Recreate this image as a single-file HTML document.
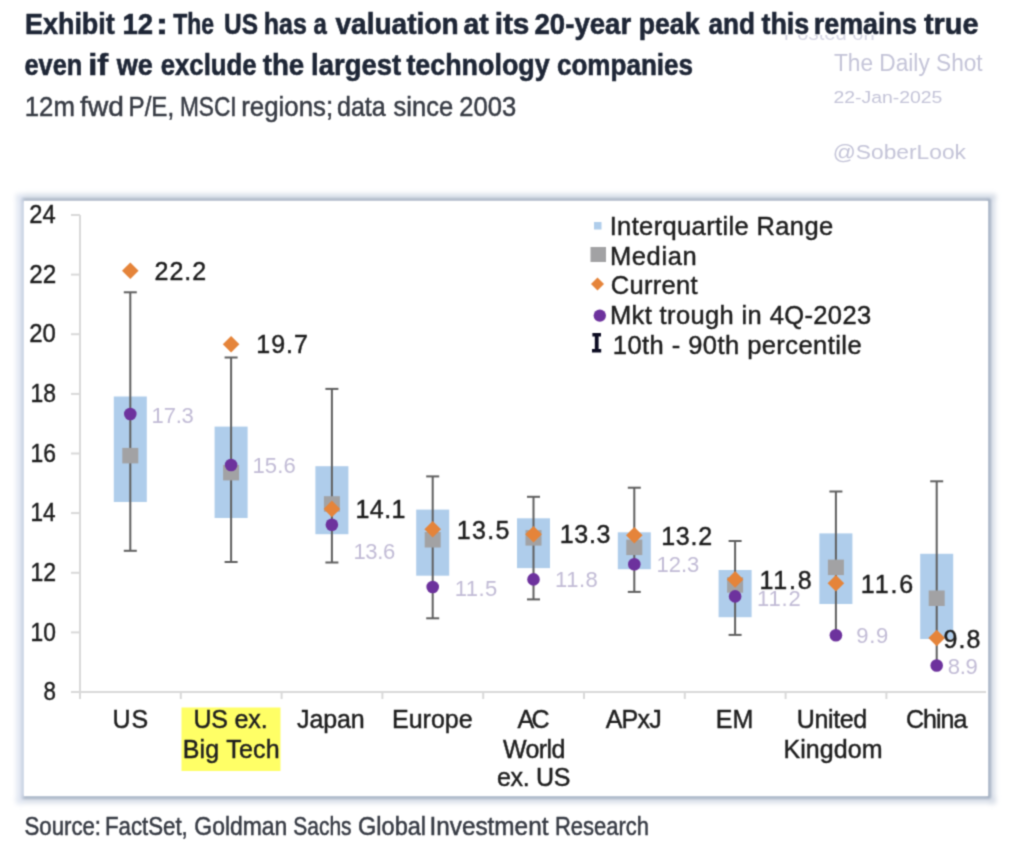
<!DOCTYPE html>
<html><head><meta charset="utf-8"><style>
html,body{margin:0;padding:0;background:#fff;}
body{width:1024px;height:848px;overflow:hidden;position:relative;}
svg{position:absolute;left:0;top:0;}
text{font-family:"Liberation Sans",sans-serif;}
.d{stroke:#1e1e1e;stroke-width:0.45px;}
</style></head><body>
<svg width="1024" height="848" viewBox="0 0 1024 848">
<defs>
<filter id="sh" x="-5%" y="-5%" width="110%" height="110%"><feGaussianBlur stdDeviation="3"/></filter>
<filter id="fb" x="-5%" y="-5%" width="110%" height="110%"><feGaussianBlur stdDeviation="2.5"/></filter>
<filter id="gb" x="0" y="0" width="1024" height="848" filterUnits="userSpaceOnUse" color-interpolation-filters="sRGB"><feConvolveMatrix order="3" kernelMatrix="0.0361 0.1178 0.0361 0.1178 0.3846 0.1178 0.0361 0.1178 0.0361" divisor="1" edgeMode="duplicate" preserveAlpha="true"/></filter>
<filter id="fb2" x="-5%" y="-5%" width="110%" height="110%"><feGaussianBlur stdDeviation="0.8"/></filter>
</defs>
<g filter="url(#gb)">
<rect x="0" y="0" width="1024" height="848" fill="#fff"/>
<text x="783.84" y="39.50" font-size="20" fill="#d6d6e4" textLength="90.97" lengthAdjust="spacingAndGlyphs">Posted on</text>
<rect x="0" y="0" width="1024" height="35" fill="#fff"/>
<text x="833.99" y="71.30" font-size="23" fill="#c4c4d8" textLength="148.68" lengthAdjust="spacingAndGlyphs">The Daily Shot</text>
<text x="833.53" y="103.30" font-size="16.8" fill="#c4c4d8" textLength="108.79" lengthAdjust="spacingAndGlyphs">22-Jan-2025</text>
<text x="832.71" y="158.60" font-size="21" fill="#c4c4d8" textLength="133.26" lengthAdjust="spacingAndGlyphs">@SoberLook</text>
<text x="24.95" y="34.00" font-size="30" font-weight="bold" fill="#1e2636" textLength="89.88" lengthAdjust="spacingAndGlyphs" stroke="#1e2636" stroke-width="0.6">Exhibit</text>
<text x="122.52" y="34.00" font-size="30" font-weight="bold" fill="#1e2636" textLength="30.58" lengthAdjust="spacingAndGlyphs" stroke="#1e2636" stroke-width="0.6">12</text>
<text x="155.66" y="34.00" font-size="30" font-weight="bold" fill="#1e2636" textLength="12.43" lengthAdjust="spacingAndGlyphs" stroke="#1e2636" stroke-width="0.6">:</text>
<text x="173.24" y="34.00" font-size="30" font-weight="bold" fill="#1e2636" textLength="40.79" lengthAdjust="spacingAndGlyphs" stroke="#1e2636" stroke-width="0.6">The</text>
<text x="224.03" y="34.00" font-size="30" font-weight="bold" fill="#1e2636" textLength="33.92" lengthAdjust="spacingAndGlyphs" stroke="#1e2636" stroke-width="0.6">US</text>
<text x="263.76" y="34.00" font-size="30" font-weight="bold" fill="#1e2636" textLength="43.02" lengthAdjust="spacingAndGlyphs" stroke="#1e2636" stroke-width="0.6">has</text>
<text x="313.55" y="34.00" font-size="30" font-weight="bold" fill="#1e2636" textLength="13.30" lengthAdjust="spacingAndGlyphs" stroke="#1e2636" stroke-width="0.6">a</text>
<text x="335.39" y="34.00" font-size="30" font-weight="bold" fill="#1e2636" textLength="123.35" lengthAdjust="spacingAndGlyphs" stroke="#1e2636" stroke-width="0.6">valuation</text>
<text x="463.42" y="34.00" font-size="30" font-weight="bold" fill="#1e2636" textLength="25.18" lengthAdjust="spacingAndGlyphs" stroke="#1e2636" stroke-width="0.6">at</text>
<text x="494.67" y="34.00" font-size="30" font-weight="bold" fill="#1e2636" textLength="34.81" lengthAdjust="spacingAndGlyphs" stroke="#1e2636" stroke-width="0.6">its</text>
<text x="534.54" y="34.00" font-size="30" font-weight="bold" fill="#1e2636" textLength="96.62" lengthAdjust="spacingAndGlyphs" stroke="#1e2636" stroke-width="0.6">20-year</text>
<text x="638.74" y="34.00" font-size="30" font-weight="bold" fill="#1e2636" textLength="60.73" lengthAdjust="spacingAndGlyphs" stroke="#1e2636" stroke-width="0.6">peak</text>
<text x="708.48" y="34.00" font-size="30" font-weight="bold" fill="#1e2636" textLength="46.49" lengthAdjust="spacingAndGlyphs" stroke="#1e2636" stroke-width="0.6">and</text>
<text x="761.42" y="34.00" font-size="30" font-weight="bold" fill="#1e2636" textLength="47.94" lengthAdjust="spacingAndGlyphs" stroke="#1e2636" stroke-width="0.6">this</text>
<text x="813.73" y="34.00" font-size="30" font-weight="bold" fill="#1e2636" textLength="103.13" lengthAdjust="spacingAndGlyphs" stroke="#1e2636" stroke-width="0.6">remains</text>
<text x="923.90" y="34.00" font-size="30" font-weight="bold" fill="#1e2636" textLength="54.59" lengthAdjust="spacingAndGlyphs" stroke="#1e2636" stroke-width="0.6">true</text>
<text x="24.51" y="74.70" font-size="30" font-weight="bold" fill="#1e2636" textLength="57.81" lengthAdjust="spacingAndGlyphs" stroke="#1e2636" stroke-width="0.6">even</text>
<text x="88.22" y="74.70" font-size="30" font-weight="bold" fill="#1e2636" textLength="19.97" lengthAdjust="spacingAndGlyphs" stroke="#1e2636" stroke-width="0.6">if</text>
<text x="116.83" y="74.70" font-size="30" font-weight="bold" fill="#1e2636" textLength="36.10" lengthAdjust="spacingAndGlyphs" stroke="#1e2636" stroke-width="0.6">we</text>
<text x="160.74" y="74.70" font-size="30" font-weight="bold" fill="#1e2636" textLength="95.89" lengthAdjust="spacingAndGlyphs" stroke="#1e2636" stroke-width="0.6">exclude</text>
<text x="262.66" y="74.70" font-size="30" font-weight="bold" fill="#1e2636" textLength="41.53" lengthAdjust="spacingAndGlyphs" stroke="#1e2636" stroke-width="0.6">the</text>
<text x="311.08" y="74.70" font-size="30" font-weight="bold" fill="#1e2636" textLength="90.00" lengthAdjust="spacingAndGlyphs" stroke="#1e2636" stroke-width="0.6">largest</text>
<text x="406.42" y="74.70" font-size="30" font-weight="bold" fill="#1e2636" textLength="143.22" lengthAdjust="spacingAndGlyphs" stroke="#1e2636" stroke-width="0.6">technology</text>
<text x="556.98" y="74.70" font-size="30" font-weight="bold" fill="#1e2636" textLength="136.09" lengthAdjust="spacingAndGlyphs" stroke="#1e2636" stroke-width="0.6">companies</text>
<text x="24.79" y="116.30" font-size="27.5" fill="#373b44" textLength="50.16" lengthAdjust="spacingAndGlyphs" stroke="#373b44" stroke-width="0.5">12m</text>
<text x="80.10" y="116.30" font-size="27.5" fill="#373b44" textLength="43.71" lengthAdjust="spacingAndGlyphs" stroke="#373b44" stroke-width="0.5">fwd</text>
<text x="128.52" y="116.30" font-size="27.5" fill="#373b44" textLength="45.65" lengthAdjust="spacingAndGlyphs" stroke="#373b44" stroke-width="0.5">P/E,</text>
<text x="179.89" y="116.30" font-size="27.5" fill="#373b44" textLength="56.70" lengthAdjust="spacingAndGlyphs" stroke="#373b44" stroke-width="0.5">MSCI</text>
<text x="241.29" y="116.30" font-size="27.5" fill="#373b44" textLength="91.78" lengthAdjust="spacingAndGlyphs" stroke="#373b44" stroke-width="0.5">regions;</text>
<text x="336.95" y="116.30" font-size="27.5" fill="#373b44" textLength="48.80" lengthAdjust="spacingAndGlyphs" stroke="#373b44" stroke-width="0.5">data</text>
<text x="393.54" y="116.30" font-size="27.5" fill="#373b44" textLength="59.59" lengthAdjust="spacingAndGlyphs" stroke="#373b44" stroke-width="0.5">since</text>
<text x="459.21" y="116.30" font-size="27.5" fill="#373b44" textLength="56.91" lengthAdjust="spacingAndGlyphs" stroke="#373b44" stroke-width="0.5">2003</text>
<text x="24.49" y="834.70" font-size="25" fill="#373b44" textLength="76.54" lengthAdjust="spacingAndGlyphs" stroke="#373b44" stroke-width="0.5">Source:</text>
<text x="104.93" y="834.70" font-size="25" fill="#373b44" textLength="82.82" lengthAdjust="spacingAndGlyphs" stroke="#373b44" stroke-width="0.5">FactSet,</text>
<text x="194.35" y="834.70" font-size="25" fill="#373b44" textLength="92.89" lengthAdjust="spacingAndGlyphs" stroke="#373b44" stroke-width="0.5">Goldman</text>
<text x="293.30" y="834.70" font-size="25" fill="#373b44" textLength="58.21" lengthAdjust="spacingAndGlyphs" stroke="#373b44" stroke-width="0.5">Sachs</text>
<text x="358.07" y="834.70" font-size="25" fill="#373b44" textLength="68.01" lengthAdjust="spacingAndGlyphs" stroke="#373b44" stroke-width="0.5">Global</text>
<text x="429.51" y="834.70" font-size="25" fill="#373b44" textLength="118.92" lengthAdjust="spacingAndGlyphs" stroke="#373b44" stroke-width="0.5">Investment</text>
<text x="554.95" y="834.70" font-size="25" fill="#373b44" textLength="93.98" lengthAdjust="spacingAndGlyphs" stroke="#373b44" stroke-width="0.5">Research</text>
<g filter="url(#fb)">
<line x1="16" y1="197" x2="996" y2="197" stroke="#d3dbe6" stroke-width="6"/>
<line x1="16" y1="800" x2="996" y2="800" stroke="#d5dce6" stroke-width="6"/>
<line x1="20" y1="194" x2="20" y2="804" stroke="#e0e6f2" stroke-width="7"/>
<line x1="992" y1="194" x2="992" y2="804" stroke="#d5dce6" stroke-width="6"/>
</g>
<g filter="url(#fb2)">
<line x1="22" y1="199.6" x2="990" y2="199.6" stroke="#aab6c6" stroke-width="3"/>
<line x1="22" y1="797.5" x2="990" y2="797.5" stroke="#a4b1c3" stroke-width="3.2"/>
<line x1="22.6" y1="199" x2="22.6" y2="798" stroke="#c8d1e2" stroke-width="3"/>
<line x1="989.5" y1="199" x2="989.5" y2="798" stroke="#a4b1c3" stroke-width="3.2"/>
</g>
<rect x="24" y="201" width="964" height="595" fill="#fff"/>
<line x1="80" y1="215" x2="80" y2="699" stroke="#d9d9d9" stroke-width="2"/>
<line x1="79" y1="692" x2="986" y2="692" stroke="#d9d9d9" stroke-width="2"/>
<line x1="71" y1="215.0" x2="80" y2="215.0" stroke="#d9d9d9" stroke-width="2"/>
<text x="29.31" y="223.20" font-size="25.5" fill="#1e1e1e" textLength="26.39" lengthAdjust="spacingAndGlyphs" class="d">24</text>
<line x1="71" y1="274.6" x2="80" y2="274.6" stroke="#d9d9d9" stroke-width="2"/>
<text x="29.28" y="282.82" font-size="25.5" fill="#1e1e1e" textLength="26.94" lengthAdjust="spacingAndGlyphs" class="d">22</text>
<line x1="71" y1="334.2" x2="80" y2="334.2" stroke="#d9d9d9" stroke-width="2"/>
<text x="29.30" y="342.45" font-size="25.5" fill="#1e1e1e" textLength="26.64" lengthAdjust="spacingAndGlyphs" class="d">20</text>
<line x1="71" y1="393.9" x2="80" y2="393.9" stroke="#d9d9d9" stroke-width="2"/>
<text x="30.56" y="402.07" font-size="25.5" fill="#1e1e1e" textLength="25.44" lengthAdjust="spacingAndGlyphs" class="d">18</text>
<line x1="71" y1="453.5" x2="80" y2="453.5" stroke="#d9d9d9" stroke-width="2"/>
<text x="30.56" y="461.70" font-size="25.5" fill="#1e1e1e" textLength="25.45" lengthAdjust="spacingAndGlyphs" class="d">16</text>
<line x1="71" y1="513.1" x2="80" y2="513.1" stroke="#d9d9d9" stroke-width="2"/>
<text x="30.58" y="521.33" font-size="25.5" fill="#1e1e1e" textLength="25.08" lengthAdjust="spacingAndGlyphs" class="d">14</text>
<line x1="71" y1="572.8" x2="80" y2="572.8" stroke="#d9d9d9" stroke-width="2"/>
<text x="30.55" y="580.95" font-size="25.5" fill="#1e1e1e" textLength="25.61" lengthAdjust="spacingAndGlyphs" class="d">12</text>
<line x1="71" y1="632.4" x2="80" y2="632.4" stroke="#d9d9d9" stroke-width="2"/>
<text x="30.57" y="640.58" font-size="25.5" fill="#1e1e1e" textLength="25.32" lengthAdjust="spacingAndGlyphs" class="d">10</text>
<line x1="71" y1="692.0" x2="80" y2="692.0" stroke="#d9d9d9" stroke-width="2"/>
<text x="43.53" y="700.20" font-size="25.5" fill="#1e1e1e" textLength="12.44" lengthAdjust="spacingAndGlyphs" class="d">8</text>
<line x1="180.8" y1="692" x2="180.8" y2="699" stroke="#d9d9d9" stroke-width="2"/>
<line x1="281.6" y1="692" x2="281.6" y2="699" stroke="#d9d9d9" stroke-width="2"/>
<line x1="382.4" y1="692" x2="382.4" y2="699" stroke="#d9d9d9" stroke-width="2"/>
<line x1="483.2" y1="692" x2="483.2" y2="699" stroke="#d9d9d9" stroke-width="2"/>
<line x1="584.0" y1="692" x2="584.0" y2="699" stroke="#d9d9d9" stroke-width="2"/>
<line x1="684.8" y1="692" x2="684.8" y2="699" stroke="#d9d9d9" stroke-width="2"/>
<line x1="785.6" y1="692" x2="785.6" y2="699" stroke="#d9d9d9" stroke-width="2"/>
<line x1="886.4" y1="692" x2="886.4" y2="699" stroke="#d9d9d9" stroke-width="2"/>
<rect x="113.8" y="396.5" width="33" height="105.5" fill="#afcdeb"/>
<rect x="214.6" y="426.6" width="33" height="91.4" fill="#afcdeb"/>
<rect x="315.4" y="466.2" width="33" height="68.0" fill="#afcdeb"/>
<rect x="416.2" y="509.6" width="33" height="66.1" fill="#afcdeb"/>
<rect x="517.0" y="518.3" width="33" height="49.8" fill="#afcdeb"/>
<rect x="617.8" y="532.3" width="33" height="36.9" fill="#afcdeb"/>
<rect x="718.6" y="570.0" width="33" height="47.2" fill="#afcdeb"/>
<rect x="819.4" y="533.4" width="33" height="70.6" fill="#afcdeb"/>
<rect x="920.2" y="553.8" width="33" height="85.2" fill="#afcdeb"/>
<line x1="130.3" y1="292.3" x2="130.3" y2="550.8" stroke="#5f5f5f" stroke-width="2"/>
<line x1="123.8" y1="292.3" x2="136.8" y2="292.3" stroke="#5f5f5f" stroke-width="2"/>
<line x1="123.8" y1="550.8" x2="136.8" y2="550.8" stroke="#5f5f5f" stroke-width="2"/>
<rect x="122.3" y="447.9" width="16" height="15.5" fill="#a2a2a4"/>
<path d="M130.3 262.5 L138.6 270.8 L130.3 279.1 L122.0 270.8Z" fill="#e5843a"/>
<circle cx="130.3" cy="414.0" r="6.3" fill="#6d329d"/>
<line x1="231.1" y1="357.5" x2="231.1" y2="562.0" stroke="#5f5f5f" stroke-width="2"/>
<line x1="224.6" y1="357.5" x2="237.6" y2="357.5" stroke="#5f5f5f" stroke-width="2"/>
<line x1="224.6" y1="562.0" x2="237.6" y2="562.0" stroke="#5f5f5f" stroke-width="2"/>
<rect x="223.1" y="464.9" width="16" height="15.5" fill="#a2a2a4"/>
<path d="M231.1 336.0 L239.4 344.3 L231.1 352.6 L222.8 344.3Z" fill="#e5843a"/>
<circle cx="231.1" cy="465.0" r="6.3" fill="#6d329d"/>
<line x1="331.9" y1="388.9" x2="331.9" y2="562.5" stroke="#5f5f5f" stroke-width="2"/>
<line x1="325.4" y1="388.9" x2="338.4" y2="388.9" stroke="#5f5f5f" stroke-width="2"/>
<line x1="325.4" y1="562.5" x2="338.4" y2="562.5" stroke="#5f5f5f" stroke-width="2"/>
<rect x="323.9" y="496.2" width="16" height="15.5" fill="#a2a2a4"/>
<path d="M331.9 500.6 L340.2 508.9 L331.9 517.2 L323.6 508.9Z" fill="#e5843a"/>
<circle cx="331.9" cy="524.7" r="6.3" fill="#6d329d"/>
<line x1="432.7" y1="476.4" x2="432.7" y2="618.3" stroke="#5f5f5f" stroke-width="2"/>
<line x1="426.2" y1="476.4" x2="439.2" y2="476.4" stroke="#5f5f5f" stroke-width="2"/>
<line x1="426.2" y1="618.3" x2="439.2" y2="618.3" stroke="#5f5f5f" stroke-width="2"/>
<rect x="424.7" y="532.0" width="16" height="15.5" fill="#a2a2a4"/>
<path d="M432.7 520.9 L441.0 529.2 L432.7 537.5 L424.4 529.2Z" fill="#e5843a"/>
<circle cx="432.7" cy="587.0" r="6.3" fill="#6d329d"/>
<line x1="533.5" y1="496.8" x2="533.5" y2="599.4" stroke="#5f5f5f" stroke-width="2"/>
<line x1="527.0" y1="496.8" x2="540.0" y2="496.8" stroke="#5f5f5f" stroke-width="2"/>
<line x1="527.0" y1="599.4" x2="540.0" y2="599.4" stroke="#5f5f5f" stroke-width="2"/>
<rect x="525.5" y="530.1" width="16" height="15.5" fill="#a2a2a4"/>
<path d="M533.5 525.9 L541.8 534.2 L533.5 542.5 L525.2 534.2Z" fill="#e5843a"/>
<circle cx="533.5" cy="579.4" r="6.3" fill="#6d329d"/>
<line x1="634.3" y1="487.7" x2="634.3" y2="591.9" stroke="#5f5f5f" stroke-width="2"/>
<line x1="627.8" y1="487.7" x2="640.8" y2="487.7" stroke="#5f5f5f" stroke-width="2"/>
<line x1="627.8" y1="591.9" x2="640.8" y2="591.9" stroke="#5f5f5f" stroke-width="2"/>
<rect x="626.3" y="539.6" width="16" height="15.5" fill="#a2a2a4"/>
<path d="M634.3 527.0 L642.6 535.3 L634.3 543.6 L626.0 535.3Z" fill="#e5843a"/>
<circle cx="634.3" cy="564.3" r="6.3" fill="#6d329d"/>
<line x1="735.1" y1="541.0" x2="735.1" y2="634.9" stroke="#5f5f5f" stroke-width="2"/>
<line x1="728.6" y1="541.0" x2="741.6" y2="541.0" stroke="#5f5f5f" stroke-width="2"/>
<line x1="728.6" y1="634.9" x2="741.6" y2="634.9" stroke="#5f5f5f" stroke-width="2"/>
<rect x="727.1" y="577.2" width="16" height="15.5" fill="#a2a2a4"/>
<path d="M735.1 571.1 L743.4 579.4 L735.1 587.7 L726.8 579.4Z" fill="#e5843a"/>
<circle cx="735.1" cy="596.4" r="6.3" fill="#6d329d"/>
<line x1="835.9" y1="491.5" x2="835.9" y2="635.3" stroke="#5f5f5f" stroke-width="2"/>
<line x1="829.4" y1="491.5" x2="842.4" y2="491.5" stroke="#5f5f5f" stroke-width="2"/>
<rect x="827.9" y="559.6" width="16" height="15.5" fill="#a2a2a4"/>
<path d="M835.9 574.9 L844.2 583.2 L835.9 591.5 L827.6 583.2Z" fill="#e5843a"/>
<circle cx="835.9" cy="635.3" r="6.3" fill="#6d329d"/>
<line x1="936.7" y1="481.3" x2="936.7" y2="665.5" stroke="#5f5f5f" stroke-width="2"/>
<line x1="930.2" y1="481.3" x2="943.2" y2="481.3" stroke="#5f5f5f" stroke-width="2"/>
<rect x="928.7" y="590.5" width="16" height="15.5" fill="#a2a2a4"/>
<path d="M936.7 629.7 L945.0 638.0 L936.7 646.3 L928.4 638.0Z" fill="#e5843a"/>
<circle cx="936.7" cy="665.5" r="6.3" fill="#6d329d"/>
<text x="154.54" y="279.70" font-size="25" fill="#1e1e1e" textLength="51.61" lengthAdjust="spacing" class="d">22.2</text>
<text x="256.30" y="353.20" font-size="25" fill="#1e1e1e" textLength="51.56" lengthAdjust="spacing" class="d">19.7</text>
<text x="355.40" y="517.70" font-size="25" fill="#1e1e1e" textLength="50.12" lengthAdjust="spacing" class="d">14.1</text>
<text x="456.80" y="539.10" font-size="25" fill="#1e1e1e" textLength="52.55" lengthAdjust="spacing" class="d">13.5</text>
<text x="559.80" y="542.50" font-size="25" fill="#1e1e1e" textLength="50.60" lengthAdjust="spacing" class="d">13.3</text>
<text x="661.20" y="545.10" font-size="25" fill="#1e1e1e" textLength="50.96" lengthAdjust="spacing" class="d">13.2</text>
<text x="759.40" y="589.00" font-size="25" fill="#1e1e1e" textLength="52.24" lengthAdjust="spacing" class="d">11.8</text>
<text x="860.70" y="593.10" font-size="25" fill="#1e1e1e" textLength="52.50" lengthAdjust="spacing" class="d">11.6</text>
<text x="943.53" y="648.40" font-size="25" fill="#1e1e1e" textLength="36.86" lengthAdjust="spacing" class="d">9.8</text>
<text x="151.62" y="422.70" font-size="22" fill="#c2bcd6" textLength="42.24" lengthAdjust="spacing">17.3</text>
<text x="252.42" y="473.30" font-size="22" fill="#c2bcd6" textLength="43.44" lengthAdjust="spacing">15.6</text>
<text x="353.42" y="559.25" font-size="22" fill="#c2bcd6" textLength="41.84" lengthAdjust="spacing">13.6</text>
<text x="454.72" y="595.90" font-size="22" fill="#c2bcd6" textLength="42.50" lengthAdjust="spacing">11.5</text>
<text x="555.02" y="586.60" font-size="22" fill="#c2bcd6" textLength="42.83" lengthAdjust="spacing">11.8</text>
<text x="656.42" y="572.00" font-size="22" fill="#c2bcd6" textLength="42.84" lengthAdjust="spacing">12.3</text>
<text x="757.02" y="605.50" font-size="22" fill="#c2bcd6" textLength="43.68" lengthAdjust="spacing">11.2</text>
<text x="856.27" y="643.00" font-size="22" fill="#c2bcd6" textLength="31.87" lengthAdjust="spacing">9.9</text>
<text x="947.74" y="673.60" font-size="22" fill="#c2bcd6" textLength="30.10" lengthAdjust="spacing">8.9</text>
<rect x="181.5" y="707.5" width="99" height="63.5" fill="#ffff66"/>
<text x="112.57" y="727.80" font-size="25" fill="#1e1e1e" textLength="35.58" lengthAdjust="spacing" class="d">US</text>
<text x="193.47" y="727.80" font-size="25" fill="#1e1e1e" textLength="74.11" lengthAdjust="spacing" class="d">US ex.</text>
<text x="182.65" y="757.80" font-size="25" fill="#1e1e1e" textLength="96.97" lengthAdjust="spacing" class="d">Big Tech</text>
<text x="297.11" y="727.80" font-size="25" fill="#1e1e1e" textLength="67.51" lengthAdjust="spacing" class="d">Japan</text>
<text x="391.95" y="727.80" font-size="25" fill="#1e1e1e" textLength="80.66" lengthAdjust="spacing" class="d">Europe</text>
<text x="517.55" y="727.80" font-size="25" fill="#1e1e1e" textLength="32.10" lengthAdjust="spacing" class="d">AC</text>
<text x="502.89" y="758.00" font-size="25" fill="#1e1e1e" textLength="62.52" lengthAdjust="spacing" class="d">World</text>
<text x="496.94" y="786.00" font-size="25" fill="#1e1e1e" textLength="73.61" lengthAdjust="spacing" class="d">ex. US</text>
<text x="605.65" y="727.80" font-size="25" fill="#1e1e1e" textLength="56.00" lengthAdjust="spacing" class="d">APxJ</text>
<text x="715.65" y="727.80" font-size="25" fill="#1e1e1e" textLength="37.70" lengthAdjust="spacing" class="d">EM</text>
<text x="796.67" y="727.80" font-size="25" fill="#1e1e1e" textLength="70.54" lengthAdjust="spacing" class="d">United</text>
<text x="783.45" y="758.00" font-size="25" fill="#1e1e1e" textLength="99.20" lengthAdjust="spacing" class="d">Kingdom</text>
<text x="905.93" y="727.80" font-size="25" fill="#1e1e1e" textLength="61.37" lengthAdjust="spacing" class="d">China</text>
<rect x="594" y="222" width="7.5" height="7.5" fill="#afcdeb"/>
<rect x="590.5" y="247" width="15.5" height="15" fill="#a2a2a4"/>
<path d="M597.5 277.5 L604 284 L597.5 290.5 L591 284Z" fill="#e5843a"/>
<circle cx="599.8" cy="315.6" r="6.2" fill="#6d329d"/>
<path d="M592.4 333 H601 V336.4 H598.6 V349 H601.2 V352.6 H592 V349 H594.8 V336.4 H592.4Z" fill="#0c0c22"/>
<text x="609.65" y="234.50" font-size="25.5" fill="#1e1e1e" textLength="223.49" lengthAdjust="spacing" class="d">Interquartile Range</text>
<text x="609.91" y="264.50" font-size="25.5" fill="#1e1e1e" textLength="86.75" lengthAdjust="spacing" class="d">Median</text>
<text x="610.71" y="294.00" font-size="25.5" fill="#1e1e1e" textLength="86.78" lengthAdjust="spacing" class="d">Current</text>
<text x="609.91" y="323.50" font-size="25.5" fill="#1e1e1e" textLength="261.21" lengthAdjust="spacing" class="d">Mkt trough in 4Q-2023</text>
<text x="612.86" y="353.50" font-size="25.5" fill="#1e1e1e" textLength="248.78" lengthAdjust="spacing" class="d">10th - 90th percentile</text>
</g></svg></body></html>
